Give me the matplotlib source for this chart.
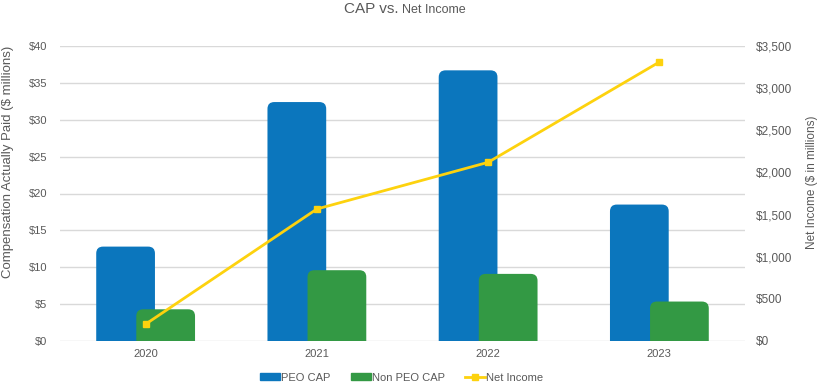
import matplotlib.pyplot as plt
from matplotlib.patches import FancyBboxPatch, Patch
from matplotlib.lines import Line2D
import numpy as np

plt.rcParams['font.family'] = ['Liberation Sans', 'DejaVu Sans']

# Data
years = ["2020", "2021", "2022", "2023"]
peo_cap = [12.8, 32.4, 36.7, 18.5]
non_peo_cap = [4.3, 9.6, 9.1, 5.35]
net_income = [200, 1566, 2120, 3310]

blue = "#0b76bd"
green = "#339944"
yellow = "#fdd20e"
text_col = "#595959"
grid_col = "#d9d9d9"

fig = plt.figure(figsize=(8.2, 3.86), dpi=100)
ax = fig.add_axes([60 / 820, 45 / 386, 685 / 820, 295 / 386])

x = np.arange(len(years)) + 0.5
w = 0.343
off = 0.117

bars1 = ax.bar(x - off, peo_cap, w, color=blue, label="PEO CAP")
bars2 = ax.bar(x + off, non_peo_cap, w, color=green, label="Non PEO CAP")

# swap plain bars for ones with rounded tops
r = 0.04
for bars, col in [(bars1, blue), (bars2, green)]:
    for b in bars:
        b.set_visible(False)
        p = FancyBboxPatch((b.get_x(), -1.5), b.get_width(), b.get_height() + 1.5,
                           boxstyle=f"round,pad=0,rounding_size={r}",
                           mutation_aspect=23, facecolor=col, edgecolor="none",
                           zorder=2)
        ax.add_patch(p)

ax.set_xlim(0, 4)
ax.set_ylim(0, 40)
ax.set_yticks(range(0, 41, 5))
ax.set_yticklabels([f"${v}" for v in range(0, 41, 5)])
ax.set_xticks(x)
ax.set_xticklabels(years)
ax.grid(axis="y", color=grid_col, linewidth=1)
ax.set_axisbelow(True)
for s in ax.spines.values():
    s.set_visible(False)
ax.tick_params(length=0, colors=text_col, labelsize=8)
ax.tick_params(axis="y", pad=9)
ax.tick_params(axis="x", pad=6)

ax2 = ax.twinx()
ax2.plot(x, net_income, color=yellow, linewidth=2, marker="s", markersize=5, zorder=5)
ax2.set_ylim(0, 3500)
ax2.set_yticks(range(0, 3501, 500))
ax2.set_yticklabels([f"${v:,}" for v in range(0, 3501, 500)])
for s in ax2.spines.values():
    s.set_visible(False)
ax2.tick_params(length=0, colors=text_col, labelsize=8.5, pad=8)

# axis titles
fig.text(8 / 820, 1 - 162 / 386, "Compensation Actually Paid ($ millions)", rotation=90,
         ha="center", va="center", fontsize=9.5, color=text_col)
fig.text(812 / 820, 1 - 182 / 386, "Net Income ($ in millions)", rotation=90,
         ha="center", va="center", fontsize=8.5, color=text_col)

# title in two sizes
fig.text(0.486, 0.976, "CAP vs.", ha="right", va="center", fontsize=11, color=text_col)
fig.text(0.490, 0.974, "Net Income", ha="left", va="center", fontsize=9, color=text_col)

handles = [Patch(color=blue, label="PEO CAP"),
           Patch(color=green, label="Non PEO CAP"),
           Line2D([0], [0], color=yellow, linewidth=2, marker="s", markersize=5, label="Net Income")]
leg = fig.legend(handles=handles, loc="center", bbox_to_anchor=(0.49, 0.022), ncol=3,
                 frameon=False, fontsize=8, handlelength=1.8, handleheight=0.5,
                 handletextpad=0.1, columnspacing=1.8)
for t in leg.get_texts():
    t.set_color(text_col)

fig.savefig("out.png", dpi=100)
